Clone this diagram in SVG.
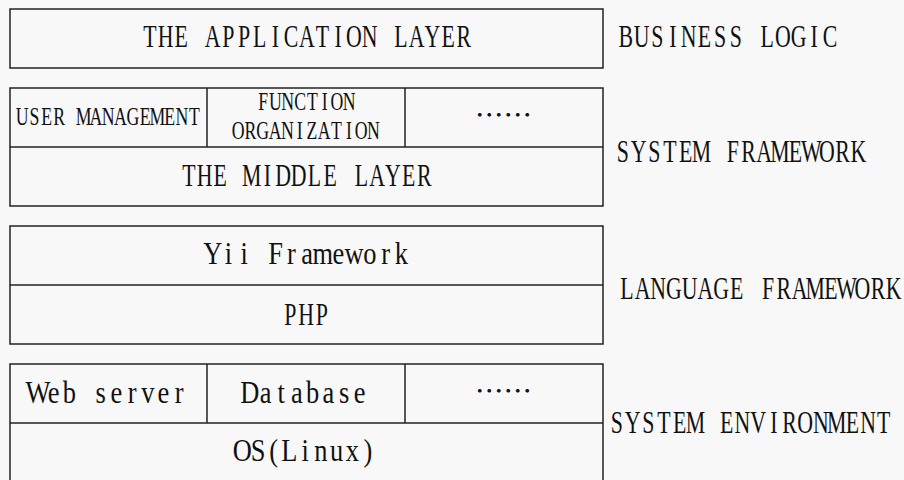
<svg xmlns="http://www.w3.org/2000/svg" width="904" height="480" viewBox="0 0 904 480">
<style>
.bx{fill:none;stroke:#222;stroke-width:1.5}
.ln{stroke:#222;stroke-width:1.5}
.t{font-family:"Liberation Serif","Times New Roman",serif;font-size:32px;fill:#111;text-anchor:middle}
.s{font-family:"Liberation Serif","Times New Roman",serif;font-size:26px;fill:#111;text-anchor:middle}
.d{font-family:"Noto Sans CJK SC",sans-serif;font-size:28px;fill:#111}
</style>
<rect width="904" height="480" fill="#f8f8f8"/>
<g id="app">
<rect class="bx" x="10" y="9" width="593" height="59"/>
<text class="t" transform="translate(142,47) scale(0.6826,1)" x="11.5 34.5 57.5 80.5 103.5 126.5 149.5 172.5 195.5 218.5 241.5 264.5 287.5 310.5 333.5 356.5 379.5 402.5 425.5 448.5 471.5">THE APPLICATION LAYER</text>
</g>
<g id="business"><text class="t" transform="translate(618,47) scale(0.6826,1)" x="11.5 34.5 57.5 80.5 103.5 126.5 149.5 172.5 195.5 218.5 241.5 264.5 287.5 310.5">BUSINESS LOGIC</text></g>
<g id="middle">
<rect class="bx" x="10" y="88" width="593" height="118"/>
<line class="ln" x1="10" y1="147" x2="603" y2="147"/>
<line class="ln" x1="207" y1="88" x2="207" y2="147"/>
<line class="ln" x1="405" y1="88" x2="405" y2="147"/>
<text class="s" transform="translate(16,125) scale(0.6833,1)" x="9 27 45 63 81 99 117 135 153 171 189 207 225 243 261">USER MANAGEMENT</text>
<text class="s" transform="translate(257,110) scale(0.6833,1)" x="9 27 45 63 81 99 117 135">FUNCTION</text>
<text class="s" transform="translate(232,139) scale(0.6833,1)" x="9 27 45 63 81 99 117 135 153 171 189 207">ORGANIZATION</text>
<text class="d" x="475" y="126" textLength="57" lengthAdjust="spacingAndGlyphs">……</text>
<text class="t" transform="translate(181,186) scale(0.6826,1)" x="11.5 34.5 57.5 80.5 103.5 126.5 149.5 172.5 195.5 218.5 241.5 264.5 287.5 310.5 333.5 356.5">THE MIDDLE LAYER</text>
</g>
<g id="sysfw"><text class="t" transform="translate(615,162) scale(0.6826,1)" x="11.5 34.5 57.5 80.5 103.5 126.5 149.5 172.5 195.5 218.5 241.5 264.5 287.5 310.5 333.5 356.5">SYSTEM FRAMEWORK</text></g>
<g id="lang">
<rect class="bx" x="10" y="226" width="593" height="118"/>
<line class="ln" x1="10" y1="285" x2="603" y2="285"/>
<text class="t" transform="translate(205,264) scale(0.8263,1)" x="9.5 28.5 47.5 66.5 85.5 104.5 123.5 142.5 161.5 180.5 199.5 218.5 237.5">Yii Framework</text>
<text class="t" transform="translate(282.5,325) scale(0.6826,1)" x="11.5 34.5 57.5">PHP</text>
</g>
<g id="langfw"><text class="t" transform="translate(619,299) scale(0.6826,1)" x="11.5 34.5 57.5 80.5 103.5 126.5 149.5 172.5 195.5 218.5 241.5 264.5 287.5 310.5 333.5 356.5 379.5 402.5">LANGUAGE FRAMEWORK</text></g>
<g id="env">
<rect class="bx" x="10" y="364" width="593" height="120"/>
<line class="ln" x1="10" y1="423" x2="603" y2="423"/>
<line class="ln" x1="207" y1="364" x2="207" y2="423"/>
<line class="ln" x1="405" y1="364" x2="405" y2="423"/>
<text class="t" transform="translate(30,403) scale(0.8263,1)" x="9.5 28.5 47.5 66.5 85.5 104.5 123.5 142.5 161.5 180.5">Web server</text>
<text class="t" transform="translate(242,403) scale(0.8263,1)" x="9.5 28.5 47.5 66.5 85.5 104.5 123.5 142.5">Database</text>
<text class="d" x="475" y="402" textLength="57" lengthAdjust="spacingAndGlyphs">……</text>
<text class="t" transform="translate(234.5,461) scale(0.8263,1)" x="9.5 28.5 47.5 66.5 85.5 104.5 123.5 142.5 161.5">OS(Linux)</text>
</g>
<g id="sysenv"><text class="t" transform="translate(609,433) scale(0.6826,1)" x="11.5 34.5 57.5 80.5 103.5 126.5 149.5 172.5 195.5 218.5 241.5 264.5 287.5 310.5 333.5 356.5 379.5 402.5">SYSTEM ENVIRONMENT</text></g>
<g id="connectors"></g>
</svg>
